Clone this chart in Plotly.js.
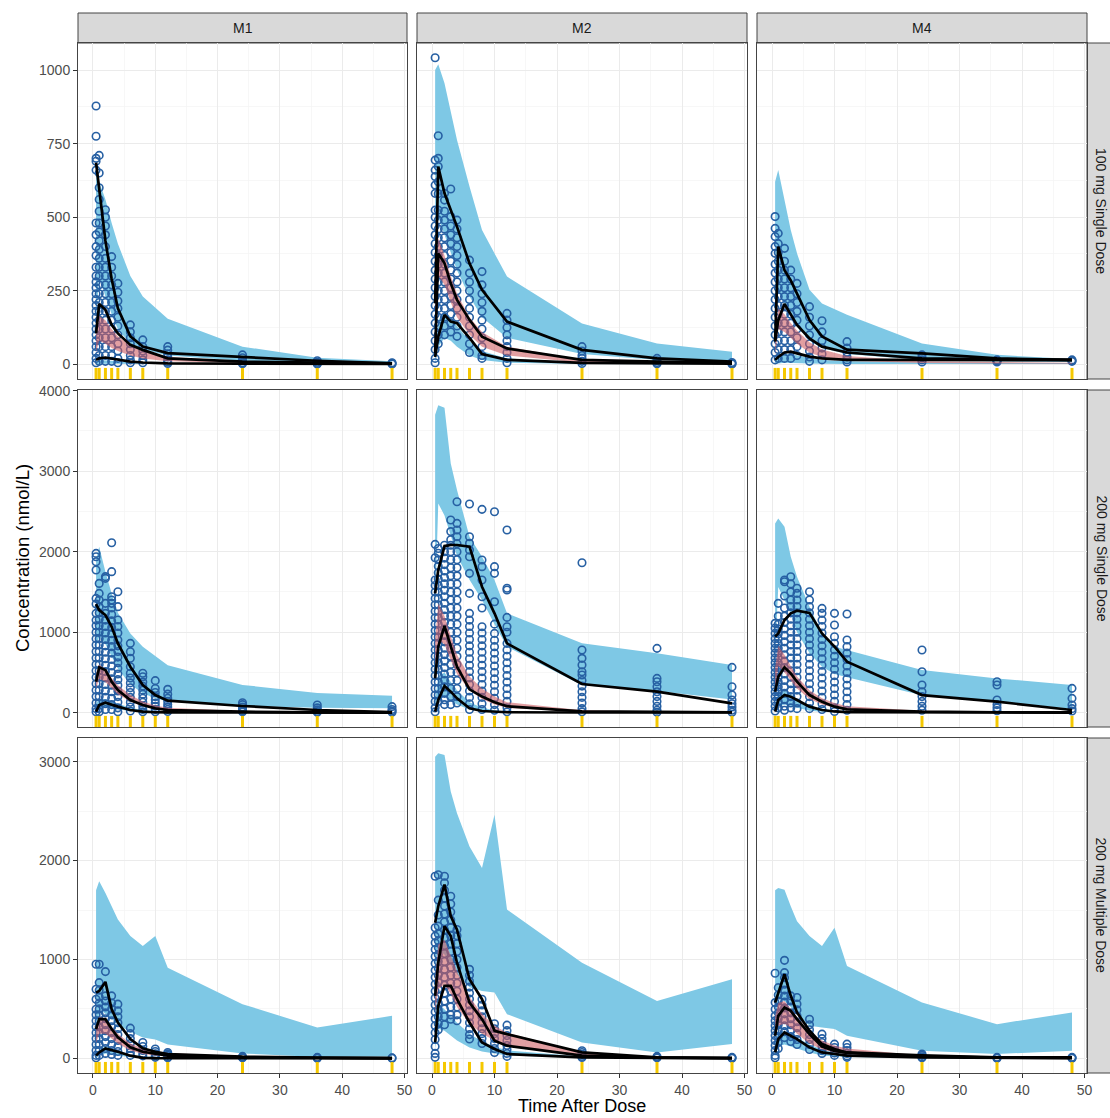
<!DOCTYPE html>
<html>
<head>
<meta charset="utf-8">
<script src="https://cdn.plot.ly/plotly-3.0.1.min.js"></script>
<style>html,body{margin:0;padding:0;background:#fff;}#chart{width:1110px;height:1118px;}</style>
</head>
<body>
<div id="chart"></div>
<script>
// ---------------- DATA ----------------
const COLS = ['M1', 'M2', 'M4'];
const ROWS = ['100 mg Single Dose', '200 mg Single Dose', '200 mg Multiple Dose'];
const X_TICKS = [0, 10, 20, 30, 40, 50];
const Y_TICKS_R1 = [0, 250, 500, 750, 1000];
const Y_TICKS_R2 = [0, 1000, 2000, 3000, 4000];
const Y_TICKS_R3 = [0, 1000, 2000, 3000];

const TIMES_SD = [0.5, 1, 2, 3, 4, 6, 8, 12, 24, 36, 48];
const TIMES_10 = [0.5, 1, 2, 3, 4, 6, 8, 10, 12, 24, 36, 48];
const RUG_SD = [0.5, 1, 2, 3, 4, 6, 8, 12, 24, 36, 48];
const RUG_10 = [0.5, 1, 2, 3, 4, 6, 8, 10, 12, 24, 36, 48];

// --- M1, 100 mg single dose
const M1_SD100_q95 = [685, 600, 420, 290, 190, 95, 60, 38, 25, 12, 3];
const M1_SD100_q50 = [105, 205, 185, 134, 105, 66, 49, 20, 9, 6, 3];
const M1_SD100_q05 = [15, 20, 23, 20, 15, 9, 6, 3, 2, 1, 1];
const M1_SD100_hiLo = [150, 300, 230, 170, 120, 70, 50, 30, 12, 6, 3];
const M1_SD100_hiHi = [640, 620, 560, 480, 410, 300, 230, 155, 60, 22, 10];
const M1_SD100_mdLo = [40, 80, 70, 55, 45, 30, 20, 10, 4, 2, 1];
const M1_SD100_mdHi = [110, 165, 150, 120, 95, 65, 45, 25, 10, 5, 2];
const M1_SD100_loLo = [0, 2, 2, 2, 1, 1, 0, 0, 0, 0, 0];
const M1_SD100_loHi = [8, 15, 15, 12, 10, 7, 5, 3, 1, 1, 0];
const M1_SD100_pts = [
  [0.5, [878,775,700,690,660,480,440,400,370,330,300,280,260,240,220,200,180,160,140,120,100,80,60,40,20,5]],
  [1, [710,650,600,560,520,480,450,420,390,360,330,300,270,240,210,180,150,120,90,60,30,10]],
  [2, [525,500,470,440,400,360,330,300,270,240,210,180,150,120,90,60,30,10]],
  [3, [366,330,300,270,240,210,180,150,120,90,60,30,10]],
  [4, [275,245,215,190,160,130,100,70,45,20,5]],
  [6, [134,110,90,70,50,30,15,5]],
  [8, [83,60,45,30,15,5]],
  [12, [60,48,35,25,15,8,3]],
  [24, [32,22,12,5,2]],
  [36, [12,7,3,1]],
  [48, [5,3,1]]
];

// --- M2, 100 mg single dose
const M2_SD100_q95 = [207, 672, 581, 524, 468, 343, 253, 145, 49, 20, 9];
const M2_SD100_q50 = [37, 377, 343, 275, 219, 151, 94, 54, 15, 9, 6];
const M2_SD100_q05 = [25, 94, 168, 145, 140, 90, 35, 15, 5, 3, 2];
const M2_SD100_hiLo = [350, 500, 440, 380, 320, 230, 160, 90, 35, 15, 8];
const M2_SD100_hiHi = [1000, 1020, 955, 853, 762, 604, 456, 298, 139, 71, 43];
const M2_SD100_mdLo = [60, 300, 270, 210, 160, 100, 60, 30, 5, 2, 1];
const M2_SD100_mdHi = [200, 430, 370, 300, 240, 160, 110, 60, 15, 6, 3];
const M2_SD100_loLo = [5, 60, 90, 80, 60, 30, 15, 5, 1, 0, 0];
const M2_SD100_loHi = [40, 150, 180, 160, 130, 80, 45, 20, 5, 3, 2];
const M2_SD100_pts = [
  [0.5, [1042,694,660,638,609,581,524,500,470,440,410,380,350,320,290,260,230,200,170,140,110,80,50,20,5]],
  [1, [777,700,672,620,580,524,490,460,430,400,370,340,310,280,250,220,190,160,130,100,70]],
  [2, [581,558,520,490,460,430,400,370,340,310,280,250,220,190,160,130,100]],
  [3, [596,502,470,440,410,380,350,320,290,260,230,200,170,140,110]],
  [4, [490,460,430,400,370,340,310,280,250,220,190,160,130,95]],
  [6, [354,310,280,250,220,190,160,130,100,70,40]],
  [8, [315,270,240,210,180,150,120,90,60,30,20]],
  [12, [173,150,125,100,80,60,40,20,5]],
  [24, [60,45,30,20,10,3]],
  [36, [20,12,6,2]],
  [48, [6,3,1]]
];

// --- M4, 100 mg single dose
const M4_SD100_q95 = [80, 400, 320, 285, 240, 150, 95, 50, 37, 20, 15];
const M4_SD100_q50 = [77, 150, 205, 168, 134, 88, 60, 40, 20, 17, 15];
const M4_SD100_q05 = [15, 25, 40, 43, 37, 26, 20, 15, 15, 15, 14];
const M4_SD100_hiLo = [60, 250, 200, 170, 130, 80, 55, 35, 15, 10, 8];
const M4_SD100_hiHi = [620, 660, 558, 456, 377, 253, 207, 168, 71, 32, 18];
const M4_SD100_mdLo = [30, 120, 110, 90, 70, 40, 25, 12, 4, 3, 2];
const M4_SD100_mdHi = [80, 190, 170, 140, 115, 75, 50, 28, 10, 7, 5];
const M4_SD100_loLo = [0, 3, 5, 5, 4, 3, 2, 1, 1, 1, 1];
const M4_SD100_loHi = [10, 25, 35, 35, 30, 22, 15, 10, 6, 5, 4];
const M4_SD100_pts = [
  [0.5, [502,462,434,400,377,340,310,280,250,220,190,160,130,100,70,40,15]],
  [1, [445,410,380,350,320,290,260,230,200,170,140,110,80,50,20]],
  [2, [394,350,320,290,260,230,200,170,140,110,80,50,20]],
  [3, [320,290,260,230,200,170,140,110,80,50,20]],
  [4, [275,240,210,180,150,120,90,60,30]],
  [6, [196,160,130,100,70,45,25,10]],
  [8, [148,110,80,55,35,15]],
  [12, [77,55,40,25,15,8]],
  [24, [32,22,15,8]],
  [36, [15,12,8]],
  [48, [15,12,10]]
];

// --- M1, 200 mg single dose
const M1_SD200_q95 = [1350, 1275, 1213, 1068, 861, 571, 344, 219, 149, 83, 33, 8];
const M1_SD200_q50 = [385, 563, 530, 385, 282, 157, 95, 54, 33, 12, 4, 2];
const M1_SD200_q05 = [12, 95, 124, 95, 75, 33, 12, 5, 3, 2, 1, 1];
const M1_SD200_hiLo = [800, 950, 850, 700, 550, 350, 240, 180, 140, 85, 60, 55];
const M1_SD200_hiHi = [1900, 2060, 1750, 1480, 1240, 985, 820, 700, 590, 345, 245, 210];
const M1_SD200_mdLo = [300, 420, 380, 300, 230, 140, 80, 50, 30, 8, 3, 1];
const M1_SD200_mdHi = [480, 600, 540, 430, 340, 220, 140, 90, 60, 20, 8, 4];
const M1_SD200_loLo = [20, 60, 70, 60, 40, 20, 8, 4, 2, 0, 0, 0];
const M1_SD200_loHi = [120, 170, 170, 140, 110, 60, 30, 18, 10, 3, 2, 1];
const M1_SD200_pts = [
  [0.5, [1979,1938,1876,1772,1420,1350,1234,1150,1080,1000,920,840,760,680,600,520,440,360,280,200,120,50,10]],
  [1, [1606,1482,1400,1317,1240,1160,1080,1000,920,840,760,680,600,520,440,360,280,200,120,50,10]],
  [2, [1690,1669,1358,1234,1150,1070,990,910,830,750,670,590,510,430,350,270,190,110,40]],
  [3, [2112,1752,1440,1400,1358,1300,1220,1140,1060,980,900,820,740,660,580,500,420,340,260,180,100,40]],
  [4, [1503,1317,1151,1070,990,903,830,760,690,620,550,480,410,340,270,200,130,60,10]],
  [6, [861,758,675,571,489,430,370,310,250,190,130,70,20]],
  [8, [489,447,380,330,280,230,180,130,80,40,10]],
  [10, [398,300,250,200,160,120,80,40,10]],
  [12, [290,230,180,140,100,70,40,15]],
  [24, [124,100,70,45,25,10]],
  [36, [95,60,35,15,5]],
  [48, [75,40,20,5]]
];

// --- M2, 200 mg single dose
const M2_SD200_q95 = [1482, 1772, 2070, 2083, 2083, 2062, 1565, 1234, 861, 356, 261, 116];
const M2_SD200_q50 = [426, 820, 1077, 820, 571, 290, 200, 130, 80, 15, 8, 5];
const M2_SD200_q05 = [12, 157, 331, 261, 178, 54, 21, 10, 5, 2, 2, 2];
const M2_SD200_hiLo = [1300, 2600, 2450, 2200, 1950, 1650, 1400, 1100, 820, 340, 270, 165];
const M2_SD200_hiHi = [3700, 3820, 3790, 3097, 2766, 2186, 1938, 1648, 1234, 861, 737, 592];
const M2_SD200_mdLo = [400, 900, 850, 650, 480, 280, 170, 100, 60, 10, 4, 2];
const M2_SD200_mdHi = [900, 1360, 1200, 950, 720, 450, 300, 200, 130, 30, 12, 6];
const M2_SD200_loLo = [20, 150, 200, 150, 100, 40, 15, 5, 2, 0, 0, 0];
const M2_SD200_loHi = [150, 450, 500, 380, 280, 130, 60, 30, 15, 4, 2, 1];
const M2_SD200_pts = [
  [0.5, [2091,1925,1648,1580,1500,1420,1340,1260,1180,1100,1020,940,860,780,700,620,540,460,380,300,220,140,60,10]],
  [1, [2040,1980,1900,1820,1740,1660,1580,1500,1420,1340,1260,1180,1100,1020,940,860,780,700,620,540,460,380,300,220,140]],
  [2, [2080,2000,1920,1840,1760,1680,1600,1520,1440,1360,1280,1200,1120,1040,960,880,800,720,640,560,480,400,320,240,160,100]],
  [3, [2393,2250,2150,2080,2000,1900,1800,1700,1600,1500,1400,1300,1200,1100,1000,900,800,700,600,500,400,300,200,100]],
  [4, [2621,2352,2269,2186,2100,2000,1900,1800,1700,1600,1500,1400,1300,1200,1100,1000,900,800,700,600,500,400,300,200,120]],
  [6, [2592,2186,2104,2020,1938,1731,1482,1234,1150,1070,990,910,830,750,670,590,510,430,350,270,190,110,40]],
  [8, [2526,1897,1814,1648,1441,1300,1068,990,910,830,750,670,590,510,430,350,270,190,110,40]],
  [10, [2497,1814,1731,1379,1100,985,900,820,740,660,580,500,420,340,260,180,100,30]],
  [12, [2269,1545,1524,1184,1068,1000,861,780,700,620,540,460,380,300,220,140,60,10]],
  [24, [1863,778,675,592,509,468,400,330,260,190,120,50,10]],
  [36, [799,426,385,323,260,200,140,80,30,5]],
  [48, [563,323,219,157,110,70,30,5]]
];

// --- M4, 200 mg single dose
const M4_SD200_q95 = [944, 985, 1151, 1234, 1267, 1240, 985, 820, 634, 219, 137, 33];
const M4_SD200_q50 = [261, 447, 563, 489, 385, 219, 137, 75, 41, 12, 5, 3];
const M4_SD200_q05 = [12, 157, 219, 199, 157, 75, 33, 15, 8, 3, 2, 1];
const M4_SD200_hiLo = [700, 1560, 1400, 1230, 1000, 740, 570, 480, 440, 215, 135, 50];
const M4_SD200_hiHi = [2350, 2414, 2310, 1938, 1690, 1317, 985, 820, 778, 530, 426, 344];
const M4_SD200_mdLo = [250, 580, 500, 400, 300, 170, 100, 60, 40, 8, 4, 2];
const M4_SD200_mdHi = [550, 830, 720, 580, 450, 280, 180, 120, 80, 25, 12, 6];
const M4_SD200_loLo = [10, 80, 100, 80, 60, 25, 10, 4, 2, 0, 0, 0];
const M4_SD200_loHi = [100, 250, 280, 230, 170, 90, 45, 25, 12, 3, 2, 1];
const M4_SD200_pts = [
  [0.5, [1110,1050,985,920,860,800,740,680,620,560,500,440,380,320,260,200,140,80,20]],
  [1, [1358,1200,1100,1040,980,920,860,800,740,680,620,560,500,440,380,320,260,200,140,60]],
  [2, [1648,1627,1450,1300,1200,1120,1040,960,880,800,720,640,560,480,400,320,240,160,80,30]],
  [3, [1689,1600,1500,1400,1320,1240,1160,1080,1000,920,840,760,680,600,520,440,360,280,200,120,60]],
  [4, [1545,1482,1400,1320,1240,1160,1080,1000,920,840,760,680,600,520,440,360,280,200,120,50]],
  [6, [1503,1400,1317,1240,1160,1080,1000,920,840,760,680,600,520,440,360,280,200,120,50]],
  [8, [1296,1234,1150,1070,990,910,830,750,670,590,510,430,350,270,190,110,40]],
  [10, [1234,1089,944,861,780,700,620,540,460,380,300,220,140,60,15]],
  [12, [1226,903,820,740,660,580,500,420,340,260,180,100,30]],
  [24, [778,509,344,260,200,140,80,30]],
  [36, [385,344,157,100,60,25]],
  [48, [302,178,95,50,20]]
];

// --- M1, 200 mg multiple dose
const M1_MD200_q95 = [665, 682, 773, 497, 363, 195, 101, 67, 44, 17, 7, 3];
const M1_MD200_q50 = [296, 396, 396, 296, 212, 111, 67, 44, 27, 8, 4, 2];
const M1_MD200_q05 = [27, 60, 101, 87, 67, 27, 5, 2, 1, 1, 1, 0];
const M1_MD200_hiLo = [60, 500, 450, 400, 340, 270, 210, 190, 140, 50, 15, 20];
const M1_MD200_hiHi = [1700, 1790, 1673, 1538, 1404, 1236, 1135, 1236, 917, 548, 312, 430];
const M1_MD200_mdLo = [150, 250, 250, 200, 150, 80, 45, 30, 20, 5, 2, 1];
const M1_MD200_mdHi = [330, 420, 400, 320, 250, 150, 100, 75, 55, 18, 8, 4];
const M1_MD200_loLo = [0, 30, 50, 40, 30, 10, 4, 2, 1, 0, 0, 0];
const M1_MD200_loHi = [40, 90, 120, 100, 80, 40, 20, 12, 8, 3, 2, 1];
const M1_MD200_pts = [
  [0.5, [951,699,598,497,440,380,320,260,200,140,80,30,5]],
  [1, [951,766,690,620,560,500,440,380,320,260,200,140,80,30]],
  [2, [877,632,580,520,460,400,340,280,220,160,100,50]],
  [3, [632,560,500,440,380,320,260,200,140,80,40]],
  [4, [548,480,420,360,300,240,180,120,70,30]],
  [6, [306,250,200,150,100,60,30]],
  [8, [161,120,80,50,25]],
  [10, [94,70,45,25,10]],
  [12, [60,45,30,15,5]],
  [24, [20,12,5]],
  [36, [10,5,2]],
  [48, [5,2]]
];

// --- M2, 200 mg multiple dose
const M2_MD200_q95 = [1370, 1538, 1757, 1438, 1300, 800, 598, 279, 245, 60, 10, 3];
const M2_MD200_q50 = [632, 967, 1337, 1236, 967, 564, 396, 178, 128, 27, 7, 3];
const M2_MD200_q05 = [161, 531, 732, 732, 598, 363, 161, 94, 44, 10, 4, 2];
const M2_MD200_hiLo = [400, 1100, 1050, 950, 850, 720, 680, 665, 447, 160, 60, 145];
const M2_MD200_hiHi = [3050, 3084, 3067, 2697, 2479, 2143, 1925, 2462, 1505, 967, 581, 799];
const M2_MD200_mdLo = [450, 700, 750, 650, 520, 350, 250, 180, 130, 20, 5, 2];
const M2_MD200_mdHi = [800, 1150, 1200, 1050, 880, 620, 450, 330, 260, 60, 15, 8];
const M2_MD200_loLo = [100, 300, 280, 230, 180, 110, 70, 50, 30, 5, 2, 1];
const M2_MD200_loHi = [550, 560, 500, 430, 360, 250, 170, 120, 80, 20, 8, 5];
const M2_MD200_pts = [
  [0.5, [1841,1320,1236,1169,1100,1030,960,890,820,750,680,610,540,470,400,330,260,190,120,50,10]],
  [1, [1857,1600,1450,1337,1260,1190,1120,1050,980,910,840,770,700,630,560,490,420,350,290]],
  [2, [1841,1774,1700,1620,1540,1460,1380,1300,1220,1140,1060,980,900,820,740,660,580,500,420,340]],
  [3, [1639,1560,1480,1400,1320,1240,1160,1080,1000,920,840,760,680,600,520,440,396]],
  [4, [1303,1240,1160,1080,1000,920,840,760,680,600,520,440,380]],
  [6, [900,840,780,720,660,600,540,480,420,360,300,240,195]],
  [8, [598,540,480,420,360,300,250,200,150]],
  [10, [350,300,250,200,150,100,60]],
  [12, [336,280,230,180,130,90,50,20]],
  [24, [77,60,40,20,8]],
  [36, [20,10,5]],
  [48, [10,5,2]]
];

// --- M4, 200 mg multiple dose
const M4_MD200_q95 = [564, 665, 850, 632, 464, 279, 144, 94, 60, 30, 10, 10];
const M4_MD200_q50 = [228, 430, 514, 480, 396, 245, 120, 75, 55, 20, 8, 5];
const M4_MD200_q05 = [60, 195, 262, 228, 195, 111, 60, 44, 27, 10, 5, 3];
const M4_MD200_hiLo = [300, 600, 580, 520, 440, 329, 312, 296, 228, 77, 44, 77];
const M4_MD200_hiHi = [1700, 1723, 1706, 1538, 1387, 1236, 1135, 1320, 934, 564, 346, 464];
const M4_MD200_mdLo = [250, 330, 350, 310, 250, 150, 90, 60, 40, 8, 3, 2];
const M4_MD200_mdHi = [420, 560, 580, 500, 420, 270, 180, 130, 100, 30, 12, 8];
const M4_MD200_loLo = [20, 120, 140, 120, 100, 60, 30, 20, 15, 3, 1, 1];
const M4_MD200_loHi = [180, 260, 280, 250, 210, 140, 90, 60, 45, 15, 6, 4];
const M4_MD200_pts = [
  [0.5, [860,564,497,430,380,330,280,230,180,130,80,30,5]],
  [1, [715,640,580,520,460,400,340,280,220,160,100]],
  [2, [991,867,816,750,690,630,570,510,450,390,330,270,210]],
  [3, [632,580,520,460,400,340,280,220,170]],
  [4, [615,550,490,430,370,310,250,190,140]],
  [6, [396,340,290,240,190,140,90]],
  [8, [245,200,160,120,80,50]],
  [10, [144,110,80,55,30]],
  [12, [144,110,80,50,25,10]],
  [24, [44,30,15,5]],
  [36, [10,5,2]],
  [48, [10,5,2]]
];

// ---------------- PANEL TABLE (built from arrays above) ----------------
const panels = [
  {t: TIMES_SD, rug: RUG_SD, q95: M1_SD100_q95, q50: M1_SD100_q50, q05: M1_SD100_q05, hiLo: M1_SD100_hiLo, hiHi: M1_SD100_hiHi, mdLo: M1_SD100_mdLo, mdHi: M1_SD100_mdHi, loLo: M1_SD100_loLo, loHi: M1_SD100_loHi, pts: M1_SD100_pts},
  {t: TIMES_SD, rug: RUG_SD, q95: M2_SD100_q95, q50: M2_SD100_q50, q05: M2_SD100_q05, hiLo: M2_SD100_hiLo, hiHi: M2_SD100_hiHi, mdLo: M2_SD100_mdLo, mdHi: M2_SD100_mdHi, loLo: M2_SD100_loLo, loHi: M2_SD100_loHi, pts: M2_SD100_pts},
  {t: TIMES_SD, rug: RUG_SD, q95: M4_SD100_q95, q50: M4_SD100_q50, q05: M4_SD100_q05, hiLo: M4_SD100_hiLo, hiHi: M4_SD100_hiHi, mdLo: M4_SD100_mdLo, mdHi: M4_SD100_mdHi, loLo: M4_SD100_loLo, loHi: M4_SD100_loHi, pts: M4_SD100_pts},
  {t: TIMES_10, rug: RUG_10, q95: M1_SD200_q95, q50: M1_SD200_q50, q05: M1_SD200_q05, hiLo: M1_SD200_hiLo, hiHi: M1_SD200_hiHi, mdLo: M1_SD200_mdLo, mdHi: M1_SD200_mdHi, loLo: M1_SD200_loLo, loHi: M1_SD200_loHi, pts: M1_SD200_pts},
  {t: TIMES_10, rug: RUG_10, q95: M2_SD200_q95, q50: M2_SD200_q50, q05: M2_SD200_q05, hiLo: M2_SD200_hiLo, hiHi: M2_SD200_hiHi, mdLo: M2_SD200_mdLo, mdHi: M2_SD200_mdHi, loLo: M2_SD200_loLo, loHi: M2_SD200_loHi, pts: M2_SD200_pts},
  {t: TIMES_10, rug: RUG_10, q95: M4_SD200_q95, q50: M4_SD200_q50, q05: M4_SD200_q05, hiLo: M4_SD200_hiLo, hiHi: M4_SD200_hiHi, mdLo: M4_SD200_mdLo, mdHi: M4_SD200_mdHi, loLo: M4_SD200_loLo, loHi: M4_SD200_loHi, pts: M4_SD200_pts},
  {t: TIMES_10, rug: RUG_10, q95: M1_MD200_q95, q50: M1_MD200_q50, q05: M1_MD200_q05, hiLo: M1_MD200_hiLo, hiHi: M1_MD200_hiHi, mdLo: M1_MD200_mdLo, mdHi: M1_MD200_mdHi, loLo: M1_MD200_loLo, loHi: M1_MD200_loHi, pts: M1_MD200_pts},
  {t: TIMES_10, rug: RUG_10, q95: M2_MD200_q95, q50: M2_MD200_q50, q05: M2_MD200_q05, hiLo: M2_MD200_hiLo, hiHi: M2_MD200_hiHi, mdLo: M2_MD200_mdLo, mdHi: M2_MD200_mdHi, loLo: M2_MD200_loLo, loHi: M2_MD200_loHi, pts: M2_MD200_pts},
  {t: TIMES_10, rug: RUG_10, q95: M4_MD200_q95, q50: M4_MD200_q50, q05: M4_MD200_q05, hiLo: M4_MD200_hiLo, hiHi: M4_MD200_hiHi, mdLo: M4_MD200_mdLo, mdHi: M4_MD200_mdHi, loLo: M4_MD200_loLo, loHi: M4_MD200_loHi, pts: M4_MD200_pts}
];

// ---------------- STYLE / LAYOUT ----------------
const W = 1110, H = 1118;
const FONT = 'Liberation Sans, Arial, Helvetica, sans-serif';
const XDOM = [[78 / W, 407 / W], [417 / W, 747 / W], [757 / W, 1087 / W]];
const YDOM = [[1 - 379 / H, 1 - 43 / H], [1 - 727 / H, 1 - 390 / H], [1 - 1073 / H, 1 - 738 / H]];
const YRANGE = [[-50, 1092], [-178, 4009], [-148, 3239]];
const YTICKS = [Y_TICKS_R1, Y_TICKS_R2, Y_TICKS_R3];
const YMINOR = [125, 500, 500];
const BLUE_BAND = '#7EC8E5';
const RED_BAND = 'rgba(205,90,95,0.58)';
const PT_COLOR = '#2760A3';
const RUG_COLOR = '#F5C800';

function poly(ts, lo, hi) {
  return {x: ts.concat(ts.slice().reverse()), y: lo.concat(hi.slice().reverse())};
}

const traces = [];
const shapes = [];
const annotations = [];
const layout = {
  width: W, height: H,
  margin: {l: 0, r: 0, t: 0, b: 0},
  paper_bgcolor: '#ffffff', plot_bgcolor: '#ffffff',
  showlegend: false,
  font: {family: FONT, color: '#4D4D4D'}
};

panels.forEach((p, i) => {
  const r = Math.floor(i / 3), c = i % 3;
  const n = i + 1;
  const xa = 'x' + (n === 1 ? '' : n), ya = 'y' + (n === 1 ? '' : n);
  const xkey = 'xaxis' + (n === 1 ? '' : n), ykey = 'yaxis' + (n === 1 ? '' : n);

  layout[xkey] = {
    domain: XDOM[c], anchor: ya, range: [-2.4, 50.4],
    tickmode: 'array', tickvals: X_TICKS,
    showticklabels: r === 2, ticks: r === 2 ? 'outside' : '', ticklen: 4, tickcolor: '#333333', tickwidth: 1,
    tickfont: {size: 14, color: '#4D4D4D', family: FONT},
    showgrid: true, gridcolor: '#EBEBEB', gridwidth: 1,
    minor: {tickmode: 'array', tickvals: [5, 15, 25, 35, 45], showgrid: true, gridcolor: '#F4F4F4', gridwidth: 0.7, ticks: ''},
    zeroline: false, showline: true, mirror: true, linecolor: '#444444', linewidth: 1,
    fixedrange: true
  };
  const yt = YTICKS[r];
  const ymin = [];
  for (let k = 0; k < yt.length + 1; k++) ymin.push(YMINOR[r] + k * (yt[1] - yt[0]));
  layout[ykey] = {
    domain: YDOM[r], anchor: xa, range: YRANGE[r],
    tickmode: 'array', tickvals: yt,
    showticklabels: c === 0, ticks: c === 0 ? 'outside' : '', ticklen: 4, tickcolor: '#333333', tickwidth: 1,
    tickfont: {size: 14, color: '#4D4D4D', family: FONT},
    showgrid: true, gridcolor: '#EBEBEB', gridwidth: 1,
    minor: {tickmode: 'array', tickvals: ymin, showgrid: true, gridcolor: '#F4F4F4', gridwidth: 0.7, ticks: ''},
    zeroline: false, showline: true, mirror: true, linecolor: '#444444', linewidth: 1,
    fixedrange: true
  };

  // blue bands (CI of 5th and 95th percentiles)
  [[p.loLo, p.loHi], [p.hiLo, p.hiHi]].forEach(b => {
    const pg = poly(p.t, b[0], b[1]);
    traces.push({type: 'scatter', mode: 'lines', x: pg.x, y: pg.y, xaxis: xa, yaxis: ya,
      fill: 'toself', fillcolor: BLUE_BAND, line: {width: 0, color: 'rgba(0,0,0,0)'}, hoverinfo: 'skip'});
  });

  // observed points
  const px = [], py = [];
  p.pts.forEach(g => g[1].forEach(v => { px.push(g[0]); py.push(v); }));
  traces.push({type: 'scatter', mode: 'markers', x: px, y: py, xaxis: xa, yaxis: ya,
    marker: {symbol: 'circle-open', size: 7.5, color: PT_COLOR, line: {width: 1.6, color: PT_COLOR}}, hoverinfo: 'skip'});

  // red band (CI of median)
  const pm = poly(p.t, p.mdLo, p.mdHi);
  traces.push({type: 'scatter', mode: 'lines', x: pm.x, y: pm.y, xaxis: xa, yaxis: ya,
    fill: 'toself', fillcolor: RED_BAND, line: {width: 0, color: 'rgba(0,0,0,0)'}, hoverinfo: 'skip'});

  // observed percentile lines
  [p.q05, p.q50, p.q95].forEach(q => {
    traces.push({type: 'scatter', mode: 'lines', x: p.t, y: q, xaxis: xa, yaxis: ya,
      line: {color: '#000000', width: 2.7}, hoverinfo: 'skip'});
  });

  // rug
  p.rug.forEach(t => {
    shapes.push({type: 'line', xref: xa, yref: ya + ' domain', x0: t, x1: t, y0: 0, y1: 0.033,
      line: {color: RUG_COLOR, width: 3}, layer: 'above'});
  });
});

// facet strips
COLS.forEach((name, c) => {
  shapes.push({type: 'rect', xref: 'paper', yref: 'paper', x0: XDOM[c][0], x1: XDOM[c][1],
    y0: 1 - 43 / H, y1: 1 - 13 / H, fillcolor: '#D9D9D9', line: {color: '#444444', width: 1}, layer: 'below'});
  annotations.push({xref: 'paper', yref: 'paper', x: (XDOM[c][0] + XDOM[c][1]) / 2, y: 1 - 28 / H,
    text: name, showarrow: false, xanchor: 'center', yanchor: 'middle', font: {size: 14, color: '#1A1A1A', family: FONT}});
});
ROWS.forEach((name, r) => {
  shapes.push({type: 'rect', xref: 'paper', yref: 'paper', x0: 1087 / W, x1: 1118 / W,
    y0: YDOM[r][0], y1: YDOM[r][1], fillcolor: '#D9D9D9', line: {color: '#444444', width: 1}, layer: 'below'});
  annotations.push({xref: 'paper', yref: 'paper', x: 1101 / W, y: (YDOM[r][0] + YDOM[r][1]) / 2,
    text: name, showarrow: false, textangle: 90, xanchor: 'center', yanchor: 'middle', font: {size: 14, color: '#1A1A1A', family: FONT}});
});

// axis titles
annotations.push({xref: 'paper', yref: 'paper', x: 22 / W, y: 1 - 558 / H, text: 'Concentration (nmol/L)',
  showarrow: false, textangle: -90, xanchor: 'center', yanchor: 'middle', font: {size: 18.5, color: '#000000', family: FONT}});
annotations.push({xref: 'paper', yref: 'paper', x: 582 / W, y: 1 - 1106 / H, text: 'Time After Dose',
  showarrow: false, xanchor: 'center', yanchor: 'middle', font: {size: 18, color: '#000000', family: FONT}});

layout.shapes = shapes;
layout.annotations = annotations;

Plotly.newPlot('chart', traces, layout, {displayModeBar: false, staticPlot: true});
</script>
</body>
</html>
